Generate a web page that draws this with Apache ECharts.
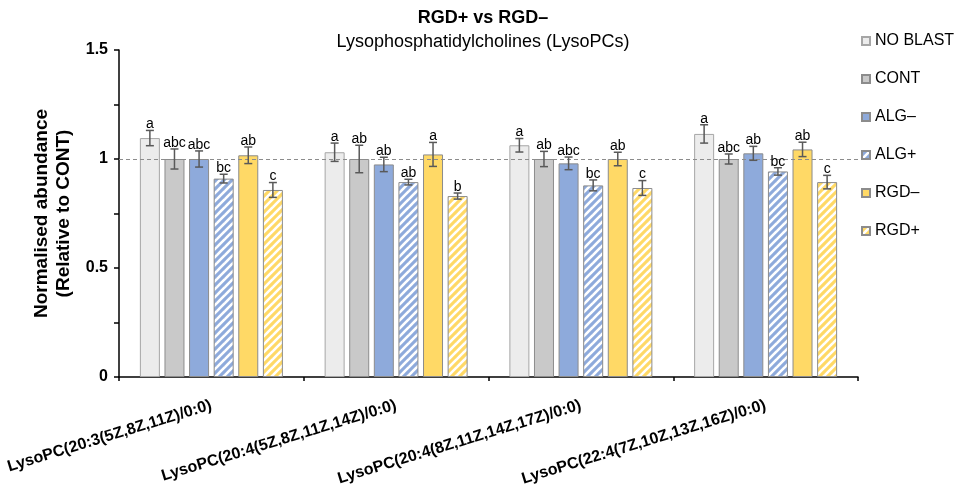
<!DOCTYPE html>
<html>
<head>
<meta charset="utf-8">
<script src="https://cdn.jsdelivr.net/npm/echarts@6/dist/echarts.min.js"></script>
<style>html,body{margin:0;padding:0;background:#fff}#c{width:954px;height:494px}</style>
</head>
<body>
<div id="c"></div>
<script>
const categories = ['LysoPC(20:3(5Z,8Z,11Z)/0:0)', 'LysoPC(20:4(5Z,8Z,11Z,14Z)/0:0)', 'LysoPC(20:4(8Z,11Z,14Z,17Z)/0:0)', 'LysoPC(22:4(7Z,10Z,13Z,16Z)/0:0)'];
const seriesNames = ['NO BLAST', 'CONT', 'ALG–', 'ALG+', 'RGD–', 'RGD+'];
const noBlast = [1.096, 1.031, 1.063, 1.115];
const cont = [1.0, 1.0, 1.0, 1.0];
const algMinus = [1.0, 0.975, 0.98, 1.026];
const algPlus = [0.91, 0.894, 0.879, 0.943];
const rgdMinus = [1.017, 1.021, 1.0, 1.044];
const rgdPlus = [0.858, 0.83, 0.867, 0.894];
const noBlastErr = [0.035, 0.042, 0.031, 0.042];
const contErr = [0.046, 0.063, 0.035, 0.023];
const algMinusErr = [0.037, 0.033, 0.029, 0.032];
const algPlusErr = [0.02, 0.013, 0.025, 0.017];
const rgdMinusErr = [0.038, 0.055, 0.031, 0.033];
const rgdPlusErr = [0.034, 0.014, 0.034, 0.031];
const noBlastLetters = ['a', 'a', 'a', 'a'];
const contLetters = ['abc', 'ab', 'ab', 'abc'];
const algMinusLetters = ['abc', 'ab', 'abc', 'ab'];
const algPlusLetters = ['bc', 'ab', 'bc', 'bc'];
const rgdMinusLetters = ['ab', 'a', 'ab', 'ab'];
const rgdPlusLetters = ['c', 'b', 'c', 'c'];
const yTicks = [0, 0.5, 1, 1.5];

const values = [noBlast, cont, algMinus, algPlus, rgdMinus, rgdPlus];
const errs = [noBlastErr, contErr, algMinusErr, algPlusErr, rgdMinusErr, rgdPlusErr];
const letters = [noBlastLetters, contLetters, algMinusLetters, algPlusLetters, rgdMinusLetters, rgdPlusLetters];

const FONT = 'Liberation Sans, Arial, sans-serif';
function hatch(color) {
  const s = 8;
  const cv = document.createElement('canvas');
  cv.width = s; cv.height = s;
  const ctx = cv.getContext('2d');
  ctx.fillStyle = color; ctx.fillRect(0, 0, s, s);
  ctx.strokeStyle = '#ffffff'; ctx.lineWidth = 2.6;
  [0, s, 2 * s].forEach(c => {
    ctx.beginPath(); ctx.moveTo(-2, c + 2); ctx.lineTo(c + 2, -2); ctx.stroke();
  });
  return { image: cv, repeat: 'repeat' };
}
const fills = ['#ececec', '#c9c9c9', '#8eaadb', hatch('#8eaadb'), '#ffd966', hatch('#ffd966')];
const borders = ['#a6a6a6', '#8c8c8c', '#8c8c8c', '#8c8c8c', '#8c8c8c', '#8c8c8c'];
const BW = 20, GAP = 4.6;

const series = [];
series.push({
  type: 'line', data: [], z: 1, silent: true,
  markLine: { silent: true, symbol: 'none', label: { show: false },
    lineStyle: { color: '#8c8c8c', type: [4, 3], width: 1 }, data: [{ yAxis: 1 }] }
});
seriesNames.forEach((n, i) => {
  series.push({
    name: n, type: 'bar', z: 2, barWidth: BW, barGap: (GAP / BW * 100) + '%',
    data: values[i],
    itemStyle: { color: fills[i], borderColor: borders[i], borderWidth: 1 }
  });
});
seriesNames.forEach((n, i) => {
  series.push({
    type: 'custom', z: 5, silent: true,
    data: values[i].map((v, j) => [j, v, errs[i][j]]),
    encode: { x: 0, y: 1 },
    renderItem: function (params, api) {
      const j = api.value(0), v = api.value(1), e = api.value(2);
      const cx = api.coord([j, v])[0] + (i - 2.5) * (BW + GAP);
      const yt = api.coord([j, v + e])[1];
      const yb = api.coord([j, v - e])[1];
      const st = { stroke: '#595959', lineWidth: 1.5 };
      return { type: 'group', children: [
        { type: 'line', shape: { x1: cx, y1: yt, x2: cx, y2: yb }, style: st },
        { type: 'line', shape: { x1: cx - 4, y1: yt, x2: cx + 4, y2: yt }, style: st },
        { type: 'line', shape: { x1: cx - 4, y1: yb, x2: cx + 4, y2: yb }, style: st },
        { type: 'text', style: { text: letters[i][params.dataIndex], x: cx, y: yt + 1,
          textAlign: 'center', textVerticalAlign: 'bottom', fontSize: 14, fill: '#000', fontFamily: FONT } }
      ] };
    }
  });
});

const chart = echarts.init(document.getElementById('c'));
chart.setOption({
  animation: false,
  backgroundColor: '#fff',
  title: [
    { text: 'RGD+ vs RGD–', left: 483, top: 9, textAlign: 'center', padding: 0,
      textStyle: { fontFamily: FONT, fontSize: 18, fontWeight: 'bold', color: '#000' } },
    { text: 'Lysophosphatidylcholines (LysoPCs)', left: 483, top: 33, textAlign: 'center', padding: 0,
      textStyle: { fontFamily: FONT, fontSize: 18, fontWeight: 'normal', color: '#000' } }
  ],
  legend: {
    data: seriesNames, orient: 'vertical', left: 861, top: 33, padding: 0,
    itemWidth: 8, itemHeight: 8, itemGap: 22, icon: 'rect',
    textStyle: { fontFamily: FONT, fontSize: 16, color: '#000' }
  },
  grid: { left: 119, right: 96, top: 50, bottom: 117 },
  xAxis: {
    type: 'category', data: categories,
    axisLine: { lineStyle: { color: '#000', width: 1.5 } },
    axisTick: { show: true, length: 4, lineStyle: { color: '#000', width: 1.5 } },
    axisLabel: { rotate: 17, margin: 28, fontFamily: FONT, fontSize: 16, fontWeight: 'bold', color: '#000' }
  },
  yAxis: {
    type: 'value', min: yTicks[0], max: yTicks[yTicks.length - 1], interval: 0.5,
    name: 'Normalised abundance\n(Relative to CONT)', nameLocation: 'middle', nameGap: 43,
    nameTextStyle: { fontFamily: FONT, fontSize: 19, fontWeight: 'bold', color: '#000', lineHeight: 22 },
    axisLine: { show: true, lineStyle: { color: '#000', width: 1.5 } },
    axisTick: { show: true, length: 5, lineStyle: { color: '#000', width: 1.5 } },
    minorTick: { show: true, splitNumber: 2, length: 5, lineStyle: { color: '#000', width: 1.5 } },
    splitLine: { show: false },
    axisLabel: { margin: 11, fontFamily: FONT, fontSize: 16, fontWeight: 'bold', color: '#000' }
  },
  series: series
});
</script>
</body>
</html>
